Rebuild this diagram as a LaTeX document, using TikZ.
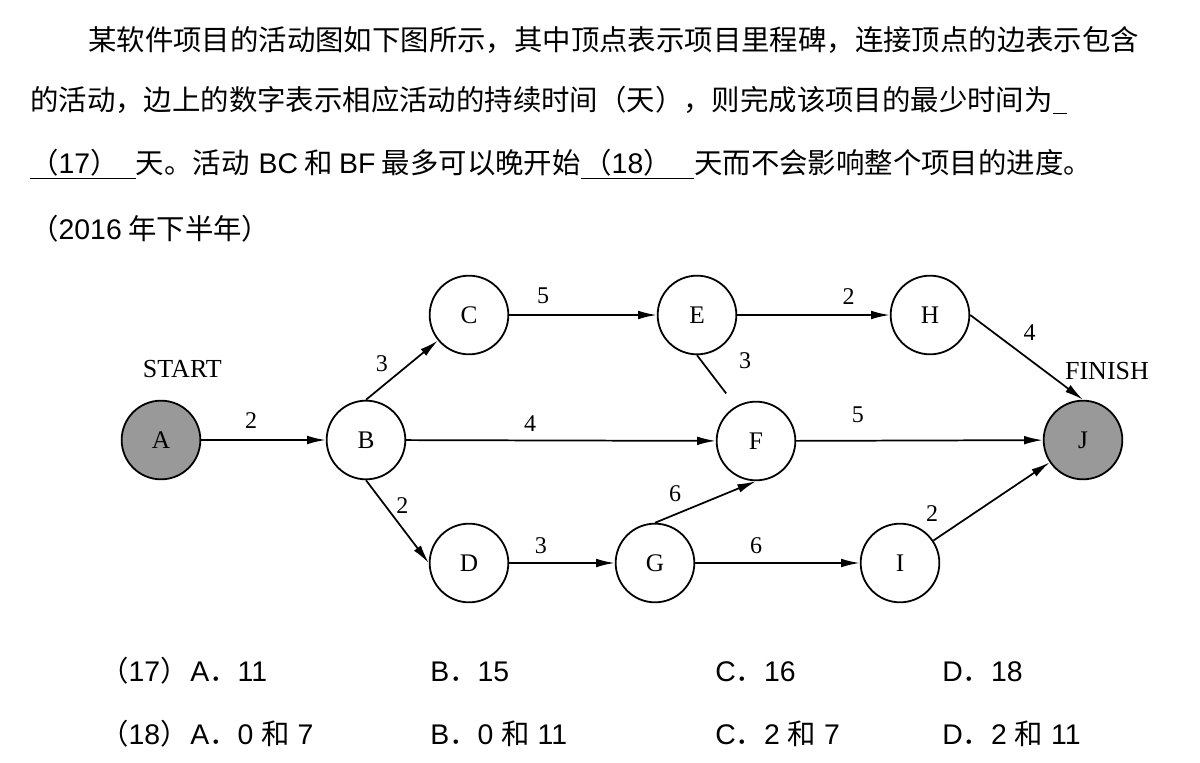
\documentclass[tikz,border=0pt]{standalone}
\usepackage{fontspec}
\setmainfont{Liberation Sans}
\newfontfamily\cjk{Noto Sans CJK SC}
\newfontfamily\graphfont{Liberation Serif}
\usetikzlibrary{arrows.meta, positioning}

\newcommand\lat[1]{{\rmfamily #1}}
\newcommand\fdot{{\cjk ．}}
\newcommand\he{{\cjk 和}}

\begin{document}
\begin{tikzpicture}[
    x=0.75pt, y=-0.75pt,
    txt/.style={anchor=base west, inner sep=0pt, font=\fontsize{21.3pt}{26pt}\selectfont},
    milestone/.style={draw, circle, line width=1.35pt, minimum size=59pt, inner sep=0pt, font=\graphfont\fontsize{19pt}{22pt}\selectfont},
    endstate/.style={milestone, fill=black!40},
    tag/.style={inner sep=0pt, font=\graphfont\fontsize{19.5pt}{22pt}\selectfont},
    lbl/.style={inner sep=2pt, font=\graphfont\fontsize{18pt}{21pt}\selectfont},
    arrow/.style={-{Latex[length=14pt,width=6.5pt]}, line width=1.3pt},
    link/.style={line width=1.3pt}
]
    \useasboundingbox (0,0) rectangle (1200,763);

    % Question text
    \node[txt] (line1) at (88,51) {\cjk 某软件项目的活动图如下图所示，其中顶点表示项目里程碑，连接顶点的边表示包含};
    \node[txt] (line2) at (30,111) {\cjk 的活动，边上的数字表示相应活动的持续时间（天），则完成该项目的最少时间为\underline{\hspace{11pt}}};
    \node[txt] (line3) at (30,174) {\cjk\underline{（\lat{17}）\hspace{13pt}}天。活动\hspace{2pt} \lat{BC} 和 \lat{BF} 最多可以晚开始\underline{\hspace{2pt}（\lat{18}）\hspace{17pt}}天而不会影响整个项目的进度。};
    \node[txt] (line4) at (30,239) {\cjk（\lat{2016} 年下半年）};

    % Milestones
    \node[endstate] (A) at (161,440) {A};
    \node[milestone] (B) at (366,440) {B};
    \node[milestone] (C) at (469,315) {C};
    \node[milestone] (D) at (469,563) {D};
    \node[milestone] (E) at (697,315) {E};
    \node[milestone] (F) at (756,441) {F};
    \node[milestone] (G) at (655,563) {G};
    \node[milestone] (H) at (930,315) {H};
    \node[milestone] (I) at (900,563) {I};
    \node[endstate] (J) at (1083,440) {J};

    \node[tag, above=16pt of A, xshift=16pt] (start) {START};
    \node[tag, above=15pt of J, xshift=18pt] (finish) {FINISH};

    % Activities
    \draw[arrow] (A) -- node[lbl, above=6pt, pos=0.4] {2} (B);
    \draw[arrow] (B.north) -- node[lbl, above left=2pt, pos=0.38] {3} (C);
    \draw[arrow] (B) -- node[lbl, above=4pt, pos=0.4] {4} (F);
    \draw[arrow] (B.south) -- node[lbl, right=6pt, pos=0.3] {2} (D.west);
    \draw[arrow] (C) -- node[lbl, above=6pt, pos=0.23] {5} (E);
    \draw[link, shorten >=12pt] (E.south) -- node[lbl, right=26pt, pos=0.1] {3} (F.120);
    \draw[arrow] (E) -- node[lbl, above=5pt, pos=0.73] {2} (H);
    \draw[arrow] (H.east) -- node[lbl, above right=5pt, pos=0.4] {4} (J.north);
    \draw[arrow] (F) -- node[lbl, above=11pt, pos=0.25] {5} (J);
    \draw[arrow] (D) -- node[lbl, above=4pt, pos=0.3] {3} (G);
    \draw[arrow] (G.north) -- node[lbl, above=7pt, pos=0.2] {6} (F.south);
    \draw[arrow] (G) -- node[lbl, above=4pt, pos=0.37] {6} (I);
    \draw[arrow] (I) -- node[lbl, above left=6pt, pos=0.12] {2} (J);

    % Options
    \node[txt] (q17) at (100,681) {\cjk（\lat{17}）};
    \node[txt] (q17a) at (190,681) {A\fdot 11};
    \node[txt] (q17b) at (430,681) {B\fdot 15};
    \node[txt] (q17c) at (715,681) {C\fdot 16};
    \node[txt] (q17d) at (942,681) {D\fdot 18};
    \node[txt] (q18) at (100,744) {\cjk（\lat{18}）};
    \node[txt] (q18a) at (190,744) {A\fdot 0 \he{} 7};
    \node[txt] (q18b) at (430,744) {B\fdot 0 \he{} 11};
    \node[txt] (q18c) at (715,744) {C\fdot 2 \he{} 7};
    \node[txt] (q18d) at (942,744) {D\fdot 2 \he{} 11};
\end{tikzpicture}
\end{document}
